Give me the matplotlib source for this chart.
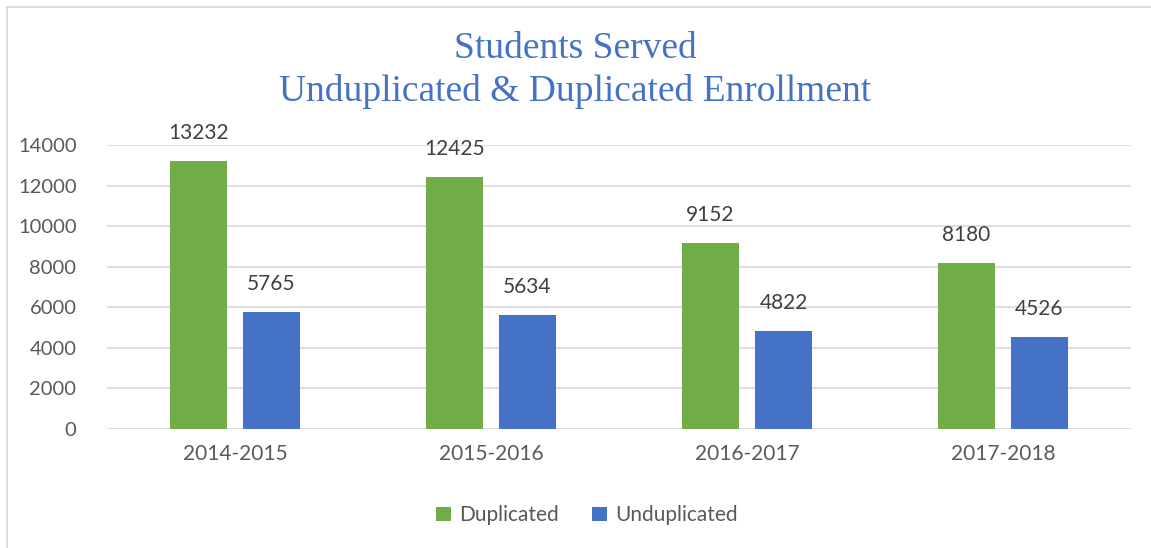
import numpy as np
import matplotlib
matplotlib.use("Agg")
import matplotlib.pyplot as plt
from matplotlib.lines import Line2D

years = ["2014-2015", "2015-2016", "2016-2017", "2017-2018"]
duplicated = [13232, 12425, 9152, 8180]
unduplicated = [5765, 5634, 4822, 4526]

GREEN = "#70AD47"
BLUE = "#4472C4"
GRAY = "#595959"

plt.rcParams["font.family"] = ["Lato", "DejaVu Sans"]

fig = plt.figure(figsize=(11.51, 5.48), dpi=100)
ax = fig.add_axes([0.093, 0.2172, 0.8896, 0.5182])

# frame: only top and left edges are visible in the crop
fx, fy = 6.5 / 1151, 1 - 6.5 / 548
fig.lines.append(Line2D([fx, 1.0], [fy, fy], transform=fig.transFigure, color="#D9D9D9", lw=1.3))
fig.lines.append(Line2D([fx, fx], [0.0, fy], transform=fig.transFigure, color="#D9D9D9", lw=1.3))

x = np.arange(len(years))
w = 0.223
off = 0.1426
b1 = ax.bar(x - off, duplicated, w, color=GREEN, label="Duplicated", zorder=3)
b2 = ax.bar(x + off, unduplicated, w, color=BLUE, label="Unduplicated", zorder=3)

for bars in (b1, b2):
    for r in bars:
        ax.annotate(f"{int(r.get_height())}", (r.get_x() + r.get_width() / 2, r.get_height()),
                    xytext=(0, 13), textcoords="offset points", ha="center", va="bottom",
                    fontsize=15, color="#404040")

ax.set_xlim(-0.5, 3.5)
ax.set_ylim(0, 14000)
ax.set_yticks(range(0, 14001, 2000))
ax.set_xticks(x)
ax.set_xticklabels(years)
ax.tick_params(axis="both", length=0, labelsize=14.5, labelcolor=GRAY)
ax.tick_params(axis="x", labelsize=15, pad=11)
ax.tick_params(axis="y", pad=22)
ax.grid(axis="y", color="#D9D9D9", linewidth=1.2, zorder=0)
for s in ax.spines.values():
    s.set_visible(False)

fig.text(0.5, 0.872, "Students Served\nUnduplicated & Duplicated Enrollment",
         ha="center", va="center", fontsize=27, color=BLUE,
         family=["Liberation Serif", "DejaVu Serif"], linespacing=1.3)

leg = fig.legend(handles=[b1, b2], loc="center", bbox_to_anchor=(0.51, 0.06), ncol=2,
                 frameon=False, fontsize=15, handlelength=0.7, handleheight=0.7,
                 handletextpad=0.4, columnspacing=1.6)
for t in leg.get_texts():
    t.set_color(GRAY)

fig.savefig("out.png", dpi=100)
